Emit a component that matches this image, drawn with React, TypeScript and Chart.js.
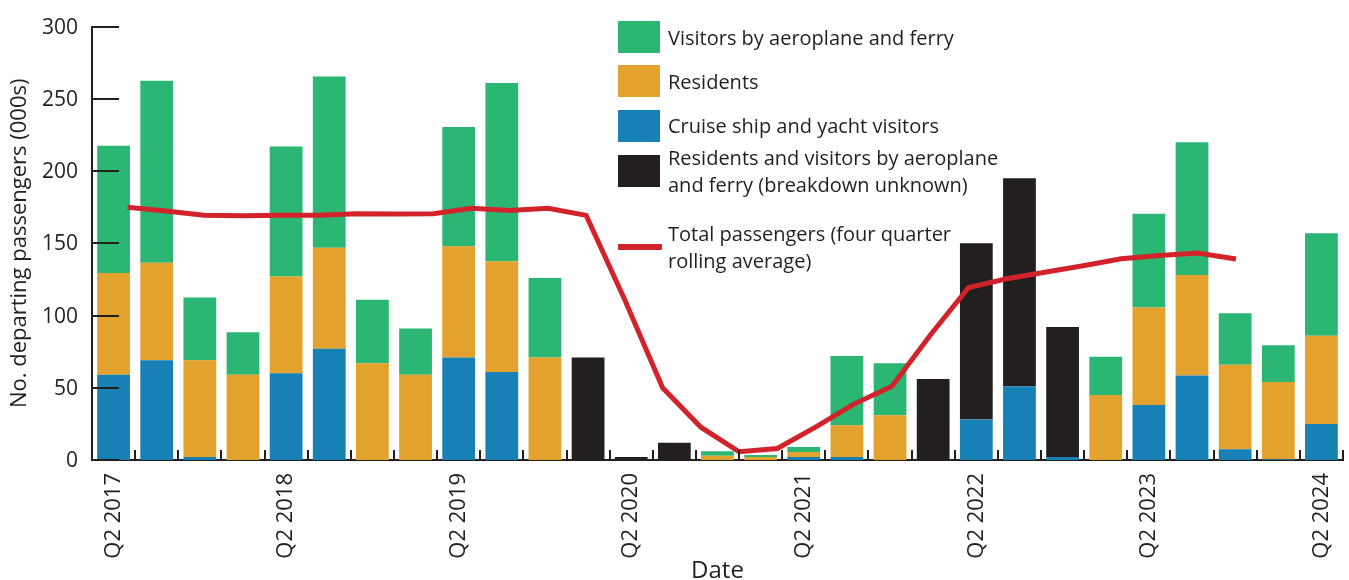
import React, { useEffect, useRef } from "react";
import { Chart, registerables } from "chart.js";

Chart.register(...registerables);

// ---------- Data ----------
const quarters = [
  "Q2 2017", "Q3 2017", "Q4 2017", "Q1 2018",
  "Q2 2018", "Q3 2018", "Q4 2018", "Q1 2019",
  "Q2 2019", "Q3 2019", "Q4 2019", "Q1 2020",
  "Q2 2020", "Q3 2020", "Q4 2020", "Q1 2021",
  "Q2 2021", "Q3 2021", "Q4 2021", "Q1 2022",
  "Q2 2022", "Q3 2022", "Q4 2022", "Q1 2023",
  "Q2 2023", "Q3 2023", "Q4 2023", "Q1 2024",
  "Q2 2024",
];

const cruiseYacht = [
  59, 69, 2, 0, 60, 77, 0, 0, 71, 61, 0, 0, 0, 0, 0, 0,
  2, 2, 0, 0, 28, 51, 2, 0, 38, 58.5, 7.5, 0.5, 25,
];

const residents = [
  70.5, 67.5, 67, 59, 67, 70, 67, 59, 77, 76.5, 71, 0, 0, 0, 3, 2,
  3.5, 22, 31, 0, 0, 0, 0, 45, 67.5, 69.5, 58.5, 53.5, 61,
];

const visitorsAirFerry = [
  88, 126, 43.5, 29.5, 90, 118.5, 44, 32, 82.5, 123.5, 55, 0, 0, 0, 3, 1.5,
  3.5, 48, 36, 0, 0, 0, 0, 26.5, 65, 92, 35.5, 25.5, 71,
];

const unknownBreakdown = [
  0, 0, 0, 0, 0, 0, 0, 0, 0, 0, 0, 71, 2, 12, 0, 0,
  0, 0, 0, 56, 122, 144, 90, 0, 0, 0, 0, 0, 0,
];

const rollingAverage = [
  175, 172.3, 169.5, 169, 169.5, 169.5, 170.5, 170.2, 170.5, 174.3,
  172.7, 174.3, 169.3, 111.4, 50, 22.7, 5.7, 8, 22.7, 38.7,
  51.1, 86.4, 119.3, 125.5, 130, 134.5, 139.3, 141.6, 143.2, 139.1,
];

const yTickValues = [0, 50, 100, 150, 200, 250, 300];

const legendLabels = [
  ["Visitors by aeroplane and ferry"],
  ["Residents"],
  ["Cruise ship and yacht visitors"],
  ["Residents and visitors by aeroplane", "and ferry (breakdown unknown)"],
  ["Total passengers (four quarter", "rolling average)"],
];

// ---------- Styles ----------
const GREEN = "#2bb673";
const ORANGE = "#e3a12e";
const BLUE = "#1780b5";
const BLACK = "#231f20";
const RED = "#d2232a";
const INK = "#231f20";
const FONT = "'Open Sans', 'Noto Sans', sans-serif";

const legendColors = [GREEN, ORANGE, BLUE, BLACK, RED];
const legendMarkers = ["box", "box", "box", "box", "line"];
const legendRowCenters = [37, 81, 125.5, 171, 247];

const W = 1349;
const H = 580;

const innerTicks = {
  id: "innerTicks",
  afterDatasetsDraw(chart: any) {
    const { ctx, chartArea, scales } = chart;
    const y = scales.y;
    const x = scales.x;
    ctx.save();
    ctx.strokeStyle = INK;
    ctx.lineWidth = 2;
    y.ticks.forEach((t: any) => {
      const py = Math.round(y.getPixelForValue(t.value));
      ctx.beginPath();
      ctx.moveTo(chartArea.left, py);
      ctx.lineTo(chartArea.left + 27, py);
      ctx.stroke();
    });
    const half = (x.getPixelForValue(1) - x.getPixelForValue(0)) / 2;
    for (let i = 0; i < quarters.length; i++) {
      const px = Math.round(x.getPixelForValue(i) + half);
      ctx.beginPath();
      ctx.moveTo(px, chartArea.bottom);
      ctx.lineTo(px, chartArea.bottom - 10);
      ctx.stroke();
    }
    ctx.restore();
  },
};

export default function App() {
  const ref = useRef<HTMLCanvasElement | null>(null);

  useEffect(() => {
    if (!ref.current) return;
    const barCommon = { order: 1, stack: "p", grouped: false, barPercentage: 0.76, categoryPercentage: 1 };
    const chart = new Chart(ref.current, {
      type: "bar",
      data: {
        labels: quarters,
        datasets: [
          { label: "Cruise ship and yacht visitors", data: cruiseYacht, backgroundColor: BLUE, ...barCommon },
          { label: "Residents", data: residents, backgroundColor: ORANGE, ...barCommon },
          { label: "Visitors by aeroplane and ferry", data: visitorsAirFerry, backgroundColor: GREEN, ...barCommon },
          { label: "Residents and visitors by aeroplane and ferry (breakdown unknown)", data: unknownBreakdown, backgroundColor: BLACK, ...barCommon },
          {
            type: "line",
            label: "Total passengers (four quarter rolling average)",
            data: rollingAverage.map((v, i) => ({ x: i, y: v })),
            xAxisID: "x2",
            yAxisID: "y",
            borderColor: RED,
            borderWidth: 5,
            pointRadius: 0,
            tension: 0,
            order: 0,
          } as any,
        ],
      },
      options: {
        responsive: false,
        animation: false,
        devicePixelRatio: 1,
        layout: { padding: { top: 20, right: 6, left: 0, bottom: 0 } },
        plugins: { legend: { display: false }, tooltip: { enabled: false } },
        scales: {
          x: {
            stacked: true,
            offset: true,
            grid: { display: false, drawTicks: false },
            border: { display: true, color: INK, width: 2 },
            ticks: {
              autoSkip: false,
              minRotation: 90,
              maxRotation: 90,
              padding: 13,
              color: INK,
              font: { family: FONT, size: 22 },
              callback: (_v: any, i: number) => (i % 4 === 0 ? quarters[i] : ""),
            },
            title: {
              display: true,
              text: "Date",
              color: INK,
              font: { family: FONT, size: 24, lineHeight: 0.7 },
              padding: { top: 0, bottom: 0 },
            },
            afterFit: (s: any) => {
              s.height = 120;
              s.paddingLeft = 0;
              s.paddingRight = 0;
            },
          },
          x2: {
            type: "linear",
            display: false,
            min: -0.929,
            max: 31.8,
            offset: false,
            grid: { display: false },
          },
          y: {
            stacked: true,
            min: 0,
            max: 300,
            grid: { display: false, drawTicks: false },
            border: { display: true, color: INK, width: 2 },
            ticks: {
              stepSize: 50,
              padding: 14,
              labelOffset: 1,
              color: INK,
              font: { family: FONT, size: 21 },
              callback: (v: any) => (yTickValues.includes(v) ? String(v) : ""),
            },
            title: {
              display: true,
              text: "No. departing passengers (000s)",
              color: INK,
              font: { family: FONT, size: 22, lineHeight: 1 },
              padding: { top: 9, bottom: 0 },
            },
            afterFit: (s: any) => { s.width = 92; },
          },
        },
      } as any,
      plugins: [innerTicks],
    });
    return () => chart.destroy();
  }, []);

  return (
    <div style={{ position: "fixed", left: 0, top: 0, width: W, height: H, background: "#fff" }}>
      <canvas ref={ref} width={W} height={H} style={{ position: "absolute", left: 0, top: 0, width: W, height: H }} />
      {legendLabels.map((lines, i) => (
        <div
          key={i}
          style={{
            position: "absolute",
            left: 618,
            top: legendRowCenters[i],
            transform: "translateY(-50%)",
            display: "flex",
            alignItems: "center",
          }}
        >
          <div style={{ width: 50, display: "flex", alignItems: "center" }}>
            {legendMarkers[i] === "box" ? (
              <div style={{ width: 42, height: 32, background: legendColors[i] }} />
            ) : (
              <div style={{ width: 44, height: 6, background: legendColors[i] }} />
            )}
          </div>
          <div
            style={{
              fontFamily: FONT,
              fontSize: 20,
              lineHeight: "27px",
              color: INK,
              whiteSpace: "nowrap",
            }}
          >
            {lines.map((l, j) => (
              <div key={j}>{l}</div>
            ))}
          </div>
        </div>
      ))}
    </div>
  );
}
